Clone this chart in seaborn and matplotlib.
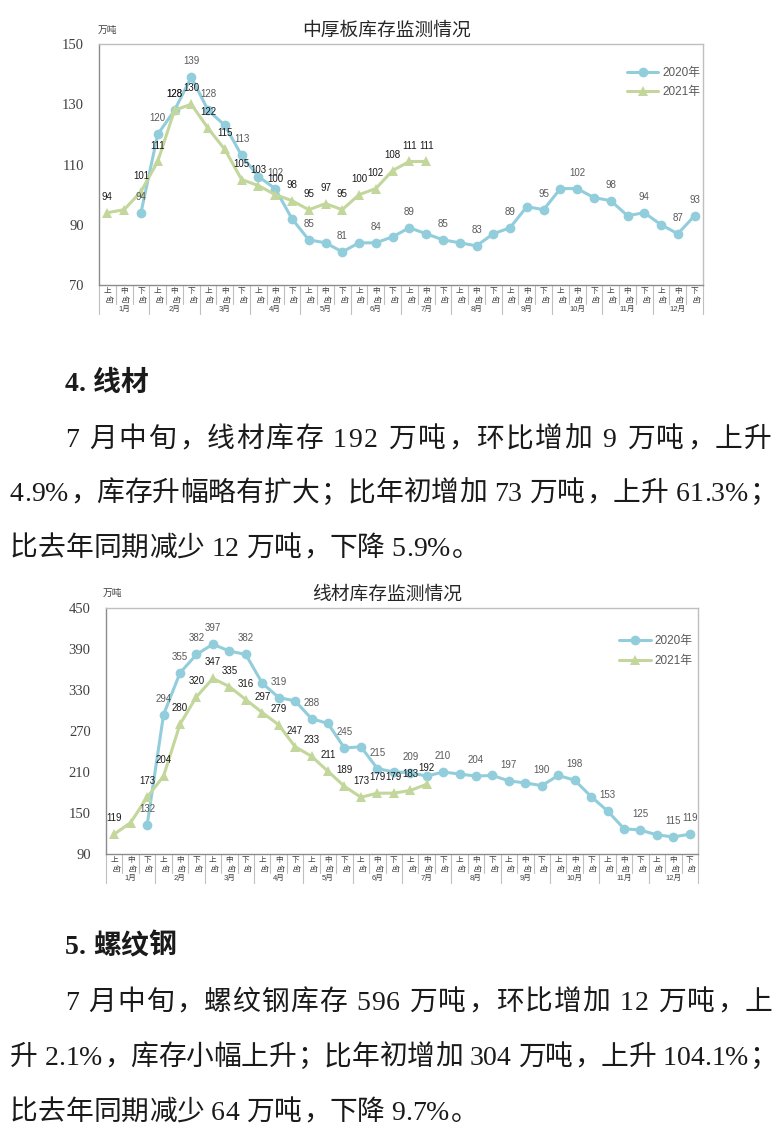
import matplotlib
matplotlib.use('Agg')
import matplotlib.pyplot as plt
import matplotlib.transforms as mtransforms
from matplotlib.font_manager import FontProperties
from matplotlib.lines import Line2D
import pandas as pd
import seaborn as sns

sns.set_theme(style='white')
plt.rcParams['font.family'] = ['Liberation Sans', 'Noto Sans CJK SC', 'DejaVu Sans']
plt.rcParams['axes.unicode_minus'] = False

# ---------------- data ----------------
months = ['1月', '2月', '3月', '4月', '5月', '6月', '7月', '8月', '9月', '10月', '11月', '12月']
dekads = ['上旬', '中旬', '下旬']
series_names = ['2020年', '2021年']
unit_text = '万吨'

plate_title = '中厚板库存监测情况'
plate_2020 = [None, None, 94, 120, 128, 139, 128, 123, 113, 106, 102, 92, 85, 84, 81, 84, 84, 86,
              89, 87, 85, 84, 83, 87, 89, 96, 95, 102, 102, 99, 98, 93, 94, 90, 87, 93]
plate_2021 = [94, 95, 101, 111, 128, 130, 122, 115, 105, 103, 100, 98, 95, 97, 95, 100, 102, 108,
              111, 111]
plate_yticks = [70, 90, 110, 130, 150]

wire_title = '线材库存监测情况'
wire_2020 = [None, None, 132, 294, 355, 382, 397, 387, 382, 340, 319, 314, 288, 281, 245, 247, 215, 210,
             209, 204, 210, 207, 204, 205, 197, 194, 190, 205, 198, 174, 153, 127, 125, 118, 115, 119]
wire_2021 = [119, 136, 173, 204, 280, 320, 347, 335, 316, 297, 279, 247, 233, 211, 189, 173, 179, 179,
             183, 192]
wire_yticks = [90, 150, 210, 270, 330, 390, 450]

label_idx_2020 = [2, 3, 4, 5, 6, 8, 10, 12, 14, 16, 18, 20, 22, 24, 26, 28, 30, 32, 34, 35]
label_idx_2021 = [0, 2, 3, 4, 5, 6, 7, 8, 9, 10, 11, 12, 13, 14, 15, 16, 17, 18, 19]

heading4 = '4. 线材'
para4 = ['7 月中旬，线材库存 192 万吨，环比增加 9 万吨，上升',
         '4.9%，库存升幅略有扩大；比年初增加 73 万吨，上升 61.3%；',
         '比去年同期减少 12 万吨，下降 5.9%。']
heading5 = '5. 螺纹钢'
para5 = ['7 月中旬，螺纹钢库存 596 万吨，环比增加 12 万吨，上',
         '升 2.1%，库存小幅上升；比年初增加 304 万吨，上升 104.1%；',
         '比去年同期减少 64 万吨，下降 9.7%。']

# ---------------- style ----------------
BLUE = '#92CDDC'
GREEN = '#C3D69B'
W, H = 779, 1138
fig = plt.figure(figsize=(W / 100, H / 100), dpi=100)
fig.patch.set_facecolor('white')
PIX = mtransforms.IdentityTransform()


def draw_chart(box, v20, v21, yticks, title, title_y, unit_xy, leg_anchor, leg_spacing):
    l, t, r, b = box
    ax = fig.add_axes([l / W, 1 - b / H, (r - l) / W, (b - t) / H])
    ah = b - t
    rows = [(i, v, series_names[0]) for i, v in enumerate(v20) if v is not None]
    rows += [(i, v, series_names[1]) for i, v in enumerate(v21) if v is not None]
    df = pd.DataFrame(rows, columns=['idx', 'val', 'year'])
    sns.lineplot(data=df, x='idx', y='val', hue='year', style='year',
                 hue_order=series_names, style_order=series_names,
                 markers={series_names[0]: 'o', series_names[1]: '^'}, dashes=False,
                 palette={series_names[0]: BLUE, series_names[1]: GREEN},
                 linewidth=2.2, markersize=7, markeredgewidth=0, legend=False,
                 estimator=None, ax=ax)
    ax.set_xlim(-0.5, 35.5)
    ax.set_ylim(yticks[0], yticks[-1])
    ax.set_yticks(yticks)
    ax.set_xticks([])
    ax.set_xlabel('')
    ax.set_ylabel('')
    ax.tick_params(axis='y', length=0, pad=11)
    for lab in ax.get_yticklabels():
        lab.set_fontfamily(['Liberation Serif'])
        lab.set_fontsize(10.5)
        lab.set_color('#404040')
    for s in ['left', 'bottom']:
        ax.spines[s].set_color('#8C8C8C')
        ax.spines[s].set_linewidth(1.0)
    for s in ['top', 'right']:
        ax.spines[s].set_color('#BFBFBF')
        ax.spines[s].set_linewidth(1.0)

    # data labels
    for i in label_idx_2020:
        v = v20[i]
        ax.annotate(str(v), xy=(i, v), xytext=(0, 11.5), textcoords='offset points',
                    ha='center', va='center', fontsize=7, color='#595959')
    for i in label_idx_2021:
        v = v21[i]
        ax.annotate(str(v), xy=(i, v), xytext=(0, 11.5), textcoords='offset points',
                    ha='center', va='center', fontsize=7, color='#1A1A1A')

    # category axis
    base = mtransforms.blended_transform_factory(ax.transData, ax.transAxes)

    def down(px):
        return mtransforms.offset_copy(base, fig=fig, x=0, y=-px, units='dots')

    for i in range(36):
        d = dekads[i % 3]
        ax.text(i, 0, d[0], transform=down(6.5), ha='center', va='center',
                fontsize=5.5, color='#404040')
        ax.text(i, 0, d[1], transform=down(14), ha='center', va='center',
                fontsize=5.5, rotation=270, color='#404040')
    for m, name in enumerate(months):
        ax.text(3 * m + 1, 0, name, transform=down(24.5), ha='center', va='center',
                fontsize=5.5, color='#404040')
    for k in range(37):
        L = 29 if k % 3 == 0 else 19
        ax.plot([k - 0.5, k - 0.5], [0, -L / ah], transform=base, clip_on=False,
                color='#BFBFBF', lw=0.8)

    # legend
    handles = [Line2D([0], [0], color=BLUE, lw=2.2, marker='o', ms=7, mew=0),
               Line2D([0], [0], color=GREEN, lw=2.2, marker='^', ms=7, mew=0)]
    leg = ax.legend(handles, series_names, loc='upper right', bbox_to_anchor=leg_anchor,
                    frameon=False, fontsize=8.5, handlelength=2.7, handletextpad=0.3,
                    labelspacing=leg_spacing, borderpad=0, borderaxespad=0)
    for tx in leg.get_texts():
        tx.set_color('#595959')

    # title and unit
    fig.text(387, H - title_y, title, transform=PIX, ha='center', va='center',
             fontsize=13.5, color='#262626')
    fig.text(unit_xy[0], H - unit_xy[1], unit_text, transform=PIX, ha='center', va='center',
             fontsize=7, color='#404040')
    return ax


draw_chart((99, 44, 703, 285), plate_2020, plate_2021, plate_yticks, plate_title, 31,
           (107, 30), (0.995, 0.905), 0.6)
draw_chart((106, 608, 698, 854), wire_2020, wire_2021, wire_yticks, wire_title, 595,
           (112, 593), (0.99, 0.89), 0.65)

# ---------------- body text ----------------
BODY_FAM = ['Liberation Serif', 'Noto Sans CJK SC']
renderer = fig.canvas.get_renderer()


def advance(c, prop):
    w1 = renderer.get_text_width_height_descent('x' + c + 'x', prop, ismath=False)[0]
    w0 = renderer.get_text_width_height_descent('xx', prop, ismath=False)[0]
    return w1 - w0


def draw_line(s, x0, yc, x1=None, size=20, weight='normal'):
    prop = FontProperties(family=BODY_FAM, size=size, weight=weight)
    advs = [advance(c, prop) for c in s]
    total = sum(advs)
    gap = 0.0
    if x1 is not None and len(s) > 1:
        gap = (x1 - x0 - total) / (len(s) - 1)
    em = size * 100 / 72
    yb = H - (yc + 0.36 * em)
    x = x0
    for c, a in zip(s, advs):
        if c != ' ':
            if c in '，；。：':
                fig.text(x + 0.06 * em, yb, c, fontproperties=prop, transform=PIX,
                         ha='left', va='baseline', color='#1A1A1A')
            else:
                fig.text(x + a / 2, yb, c, fontproperties=prop, transform=PIX,
                         ha='center', va='baseline', color='#1A1A1A')
        x += a + gap


draw_line(heading4, 65, 381, weight='bold')
draw_line(para4[0], 65, 437, x1=772)
draw_line(para4[1], 10, 491, x1=776)
draw_line(para4[2], 10, 546)
draw_line(heading5, 65, 944, weight='bold')
draw_line(para5[0], 65, 1000, x1=772)
draw_line(para5[1], 10, 1055, x1=776)
draw_line(para5[2], 10, 1110)

fig.savefig('out.png', dpi=100, facecolor='white')
